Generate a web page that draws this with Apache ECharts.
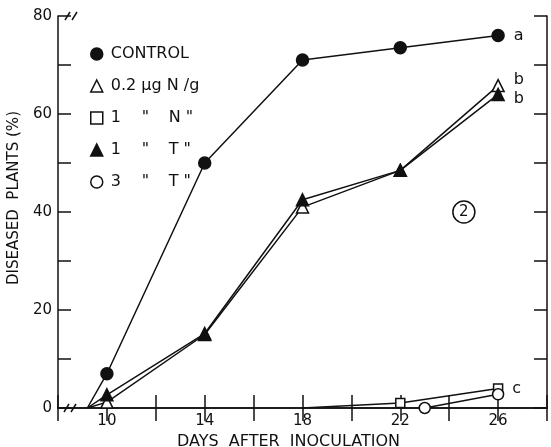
<!DOCTYPE html>
<html>
<head>
<meta charset="utf-8">
<script src="https://cdn.jsdelivr.net/npm/echarts@6/dist/echarts.min.js"></script>
<style>
html,body{margin:0;padding:0;background:#fff;}
#c{width:551px;height:447px;}
</style>
</head>
<body>
<div id="c"></div>
<script>
const seriesNames = ['CONTROL', '0.2 µg N/g', '1 µg N', '1 µg T', '3 µg T'];
const control   = [[9.2, 0], [10, 7], [14, 50], [18, 71], [22, 73.5], [26, 76]];
const low02N    = [[9.2, 0], [10, 1.2], [14, 15], [18, 41], [22, 48.5], [26, 65.8]];
const one1N     = [[18, 0], [22, 1], [26, 4]];
const one1T     = [[9.2, 0], [10, 2.7], [14, 15.2], [18, 42.5], [22, 48.5], [26, 64]];
const three3T   = [[23, 0], [26, 2.8]];
const sigLetters = ['a', 'b', 'c', 'b', ''];
const xTickLabels = [10, 14, 18, 22, 26];
const yTickLabels = [0, 20, 40, 60, 80];
const panelLabel = '2';
const panelPos = [24.6, 40];

const FONT = 'DejaVu Sans';
const INK = '#111';
const chart = echarts.init(document.getElementById('c'), null, {renderer: 'canvas'});

const symbols = ['circle', 'triangle', 'rect', 'triangle', 'circle'];
const filled = [true, false, false, true, false];
const sizes = [12, 12, 9, 12, 11];
const dataSets = [control, low02N, one1N, one1T, three3T];

function buildData(arr, letter, hideFirst) {
  return arr.map((p, i) => {
    const item = {value: p};
    if (i === 0 && hideFirst) item.symbol = 'none';
    if (i === arr.length - 1 && letter) {
      item.label = {show: true, position: 'right', distance: 9, formatter: letter,
        fontFamily: FONT, fontSize: 16, color: INK};
    }
    return item;
  });
}
const hideFirst = [true, true, true, true, false];

const series = seriesNames.map((name, k) => ({
  name: name,
  type: 'line',
  data: buildData(dataSets[k], sigLetters[k], hideFirst[k]),
  symbol: symbols[k],
  symbolSize: sizes[k],
  showAllSymbol: true,
  lineStyle: {color: INK, width: 1.5},
  itemStyle: {color: filled[k] ? INK : '#fff', borderColor: INK, borderWidth: 1.5},
  emphasis: {disabled: true},
  z: 3 + k,
  animation: false
}));
series[1].data[series[1].data.length - 1].label.offset = [0, -6];
series[3].data[series[3].data.length - 1].label.offset = [0, 4];

const legendText = {
  'CONTROL': 'CONTROL',
  '0.2 µg N/g': '0.2 µg N /g',
  '1 µg N': '{n|1}{q|"}{l|N "}',
  '1 µg T': '{n|1}{q|"}{l|T "}',
  '3 µg T': '{n|3}{q|"}{l|T "}'
};
const rs = {fontFamily: FONT, fontSize: 16, color: INK, lineHeight: 16};

const option = {
  backgroundColor: '#fff',
  animation: false,
  grid: {left: 58, right: 4, top: 16, bottom: 39, containLabel: false, outerBoundsMode: 'none'},
  legend: {
    orient: 'vertical',
    left: 85, top: 41,
    itemWidth: 12, itemHeight: 12, itemGap: 16,
    selectedMode: false,
    data: seriesNames.map((n, k) => ({
      name: n,
      icon: symbols[k],
      itemStyle: {color: filled[k] ? INK : '#fff', borderColor: INK, borderWidth: 1.5}
    })),
    formatter: n => legendText[n],
    textStyle: Object.assign({}, rs, {
      padding: [0, 0, 0, 3],
      rich: {
        n: Object.assign({width: 31}, rs),
        q: Object.assign({width: 27}, rs),
        l: Object.assign({}, rs)
      }
    })
  },
  xAxis: [{
    type: 'value', min: 8, max: 28, interval: 2, position: 'bottom',
    name: 'DAYS  AFTER  INOCULATION', nameLocation: 'middle', nameGap: 20,
    nameTextStyle: {fontFamily: FONT, fontSize: 16, color: INK, padding: [0, 28, 0, 0]},
    axisLine: {show: true, lineStyle: {color: INK, width: 1.5}},
    axisTick: {show: true, inside: true, length: 13, lineStyle: {color: INK, width: 1.5}},
    axisLabel: {margin: 6, fontFamily: FONT, fontSize: 15, color: INK,
      formatter: v => xTickLabels.includes(v) ? String(v) : ''},
    splitLine: {show: false}
  }, {
    type: 'value', min: 8, max: 28, interval: 2, position: 'top',
    axisLine: {show: true, lineStyle: {color: INK, width: 1.5}},
    axisTick: {show: true, inside: true, length: 13, lineStyle: {color: INK, width: 1.5}},
    axisLabel: {show: false}, splitLine: {show: false}
  }],
  yAxis: [{
    type: 'value', min: 0, max: 80, interval: 10, position: 'left',
    name: 'DISEASED  PLANTS (%)', nameLocation: 'middle', nameGap: 32, nameRotate: 90,
    nameTextStyle: {fontFamily: FONT, fontSize: 15, color: INK, padding: [0, 0, 0, 28]},
    axisLine: {show: true, lineStyle: {color: INK, width: 1.5}},
    axisTick: {show: true, inside: true, length: 13, lineStyle: {color: INK, width: 1.5}},
    axisLabel: {margin: 6, fontFamily: FONT, fontSize: 15, color: INK,
      formatter: v => yTickLabels.includes(v) ? String(v) : ''},
    splitLine: {show: false}
  }, {
    type: 'value', min: 0, max: 80, interval: 10, position: 'right',
    axisLine: {show: true, lineStyle: {color: INK, width: 1.5}},
    axisTick: {show: true, inside: true, length: 13, lineStyle: {color: INK, width: 1.5}},
    axisLabel: {show: false}, splitLine: {show: false}
  }],
  series: series
};
chart.setOption(option);

const origin = chart.convertToPixel({xAxisIndex: 0, yAxisIndex: 0}, [8, 0]);
const topLeft = chart.convertToPixel({xAxisIndex: 0, yAxisIndex: 0}, [8, 80]);
const pan = chart.convertToPixel({xAxisIndex: 0, yAxisIndex: 0}, panelPos);
function brk(x, y) {
  return {
    type: 'group', x: x, y: y, z: 100,
    children: [
      {type: 'rect', shape: {x: -3, y: -2, width: 6, height: 4}, style: {fill: '#fff'}},
      {type: 'line', shape: {x1: -6, y1: 4, x2: -1, y2: -4}, style: {stroke: INK, lineWidth: 1.5}},
      {type: 'line', shape: {x1: 1, y1: 4, x2: 6, y2: -4}, style: {stroke: INK, lineWidth: 1.5}}
    ]
  };
}
chart.setOption({
  graphic: [
    brk(origin[0] + 12, origin[1]),
    brk(topLeft[0] + 13, topLeft[1]),
    {type: 'circle', shape: {cx: pan[0], cy: pan[1], r: 11}, z: 100,
      style: {fill: 'none', stroke: INK, lineWidth: 1.5}},
    {type: 'text', x: pan[0], y: pan[1], z: 100,
      style: {text: panelLabel, fontFamily: FONT, fontSize: 15, fill: INK, align: 'center', verticalAlign: 'middle'}}
  ]
});
</script>
</body>
</html>
